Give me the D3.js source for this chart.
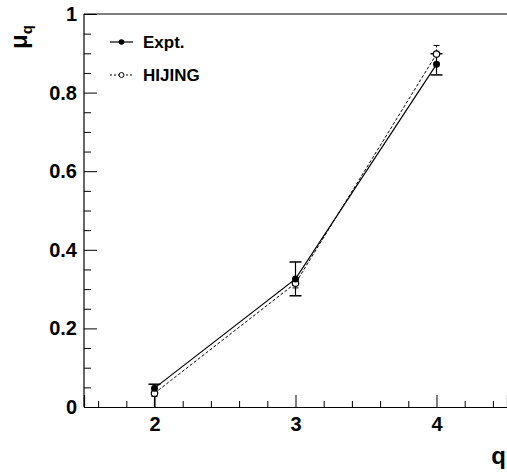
<!DOCTYPE html>
<html>
<head>
<meta charset="utf-8">
<script src="https://cdn.jsdelivr.net/npm/d3@7"></script>
<style>
  html, body { margin: 0; padding: 0; background: #fff; }
  svg { display: block; }
  text { font-family: "Liberation Sans", Arial, sans-serif; font-weight: bold; fill: #000; }
</style>
</head>
<body>
<svg id="chart" width="507" height="472"></svg>
<script>
// Moments mu_q versus order q
const qValues = [2, 3, 4];
const exptValues = [0.048, 0.326, 0.872];
const exptErrUp = [0.010, 0.043, 0.027];
const exptErrDown = [0.048, 0.043, 0.027];
const hijingValues = [0.035, 0.315, 0.898];
const hijingErr = [0.008, 0.012, 0.022];
const xTickLabels = ["2", "3", "4"];
const yTickLabels = ["0", "0.2", "0.4", "0.6", "0.8", "1"];

const svg = d3.select("#chart");
const plotL = 84, plotR = 507, plotT = 14, plotB = 407;

const x = d3.scaleLinear().domain([1.5, 4.5]).range([plotL, plotR]);
const y = d3.scaleLinear().domain([0, 1]).range([plotB, plotT]);

// Frame: left and top lines
svg.append("line").attr("x1", plotL).attr("x2", plotL).attr("y1", plotT).attr("y2", plotB)
  .attr("stroke", "#000").attr("stroke-width", 1.2);
svg.append("line").attr("x1", plotL).attr("x2", plotR).attr("y1", plotT).attr("y2", plotT)
  .attr("stroke", "#000").attr("stroke-width", 1.2);

// X axis with inward ticks
const xMinor = d3.range(1.6, 4.5, 0.2).map(v => +v.toFixed(2)).filter(v => !qValues.includes(Math.round(v * 10) / 10));
const xAxis = svg.append("g").attr("transform", `translate(0,${plotB})`)
  .call(d3.axisBottom(x).tickValues(qValues).tickSize(-12).tickPadding(10)
    .tickFormat((d, i) => xTickLabels[i]));
xAxis.select(".domain").attr("stroke-width", 1.2);
xAxis.selectAll("text").attr("font-size", 20).attr("font-family", "Liberation Sans, Arial, sans-serif").attr("font-weight", "bold");
svg.append("g").attr("transform", `translate(0,${plotB})`)
  .call(d3.axisBottom(x).tickValues(xMinor).tickSize(-6).tickFormat(""))
  .select(".domain").remove();

// Y axis with inward ticks
const yMajor = [0, 0.2, 0.4, 0.6, 0.8, 1];
const yMinor = d3.range(0.05, 1, 0.05).map(v => +v.toFixed(2)).filter(v => Math.abs(v * 5 - Math.round(v * 5)) > 1e-6);
const yAxis = svg.append("g").attr("transform", `translate(${plotL},0)`)
  .call(d3.axisLeft(y).tickValues(yMajor).tickSize(-13).tickPadding(7)
    .tickFormat((d, i) => yTickLabels[i]));
yAxis.select(".domain").remove();
yAxis.selectAll("text").attr("font-size", 20).attr("font-family", "Liberation Sans, Arial, sans-serif").attr("font-weight", "bold");
svg.append("g").attr("transform", `translate(${plotL},0)`)
  .call(d3.axisLeft(y).tickValues(yMinor).tickSize(-7).tickFormat(""))
  .select(".domain").remove();

// Axis titles
svg.append("text").attr("x", 506).attr("y", 464).attr("text-anchor", "end")
  .attr("font-size", 24).text("q");
const yt = svg.append("text").attr("transform", "translate(27,49) rotate(-90)")
  .attr("font-size", 24);
yt.append("tspan").text("μ");
yt.append("tspan").attr("font-size", 15).attr("dy", 5).text("q");

// Series
const expt = qValues.map((q, i) => ({ q, v: exptValues[i], up: exptErrUp[i], dn: exptErrDown[i] }));
const hij = qValues.map((q, i) => ({ q, v: hijingValues[i], up: hijingErr[i], dn: hijingErr[i] }));
const line = d3.line().x(d => x(d.q)).y(d => y(d.v));

// HIJING error bars and line
const hg = svg.append("g");
hij.forEach(d => {
  hg.append("line").attr("x1", x(d.q)).attr("x2", x(d.q)).attr("y1", y(d.v + d.up)).attr("y2", y(d.v - d.dn))
    .attr("stroke", "#000").attr("stroke-dasharray", "2,2");
  [d.v + d.up, d.v - d.dn].forEach(e => hg.append("line")
    .attr("x1", x(d.q) - 3).attr("x2", x(d.q) + 3).attr("y1", y(e)).attr("y2", y(e))
    .attr("stroke", "#000"));
});
hg.append("path").datum(hij).attr("d", line).attr("fill", "none")
  .attr("stroke", "#000").attr("stroke-width", 1).attr("stroke-dasharray", "3,2");

// Expt error bars and line
const eg = svg.append("g");
expt.forEach(d => {
  eg.append("line").attr("x1", x(d.q)).attr("x2", x(d.q)).attr("y1", y(d.v + d.up)).attr("y2", y(Math.max(0, d.v - d.dn)))
    .attr("stroke", "#000").attr("stroke-width", 1.2);
  eg.append("line").attr("x1", x(d.q) - 6).attr("x2", x(d.q) + 6).attr("y1", y(d.v + d.up)).attr("y2", y(d.v + d.up))
    .attr("stroke", "#000").attr("stroke-width", 1.5);
  if (d.v - d.dn > 0) {
    eg.append("line").attr("x1", x(d.q) - 6).attr("x2", x(d.q) + 6).attr("y1", y(d.v - d.dn)).attr("y2", y(d.v - d.dn))
      .attr("stroke", "#000").attr("stroke-width", 1.5);
  }
});
eg.append("path").datum(expt).attr("d", line).attr("fill", "none")
  .attr("stroke", "#000").attr("stroke-width", 1.2);

// Markers
svg.append("g").selectAll("circle").data(hij).join("circle")
  .attr("cx", d => x(d.q)).attr("cy", d => y(d.v)).attr("r", 3.2)
  .attr("fill", "#fff").attr("stroke", "#000").attr("stroke-width", 1.2);
svg.append("g").selectAll("circle").data(expt).join("circle")
  .attr("cx", d => x(d.q)).attr("cy", d => y(d.v)).attr("r", 3.5)
  .attr("fill", "#000");

// Legend
const lg = svg.append("g");
lg.append("line").attr("x1", 110).attr("x2", 133).attr("y1", 42).attr("y2", 42).attr("stroke", "#000").attr("stroke-width", 1.2);
lg.append("circle").attr("cx", 121.5).attr("cy", 42).attr("r", 2.8).attr("fill", "#000");
lg.append("text").attr("x", 143).attr("y", 48).attr("font-size", 17).text("Expt.");
lg.append("line").attr("x1", 110).attr("x2", 133).attr("y1", 75).attr("y2", 75).attr("stroke", "#000").attr("stroke-dasharray", "2,2");
lg.append("circle").attr("cx", 121.5).attr("cy", 75).attr("r", 2.5).attr("fill", "#fff").attr("stroke", "#000");
lg.append("text").attr("x", 143).attr("y", 81).attr("font-size", 17).text("HIJING");
</script>
</body>
</html>
